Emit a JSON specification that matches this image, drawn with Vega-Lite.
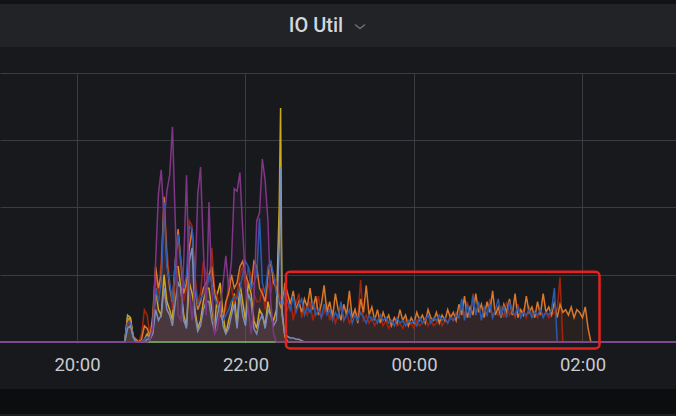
{
  "$schema": "https://vega.github.io/schema/vega-lite/v6.json",
  "background": "#18191d",
  "padding": 0,
  "spacing": 0,
  "bounds": "flush",
  "vconcat": [
    {"width": 676, "height": 4, "view": {"fill": "#111216"}, "data": {"values": []}, "mark": "rule", "encoding": {}},
    {
      "width": 676, "height": 43, "view": {"fill": "#212327"},
      "data": {"values": [{"t": "IO Util"}]},
      "layer": [
        {"mark": {"type": "text", "font": "Roboto", "fontSize": 20, "fontWeight": 500, "color": "#d4d6dc", "dx": -22, "baseline": "middle"}, "encoding": {"text": {"field": "t"}}},
        {"mark": {"type": "point", "shape": "M-1,-0.4L0,0.4L1,-0.4", "filled": false, "color": "#8e9096", "strokeWidth": 1.5, "size": 100, "xOffset": 22, "yOffset": 1}, "encoding": {}}
      ]
    },
    {"width": 676, "height": 26, "data": {"values": []}, "mark": "rule", "encoding": {}},
    {
      "width": 676, "height": 270,
      "layer": [
        {
          "data": {"values": [
            {"t":"2023-01-01T19:05:10","g":0,"y":0,"r":0,"o":0,"b":0,"s":0,"p":0},
            {"t":"2023-01-01T20:30","g":0,"y":0,"r":0,"o":0,"b":0,"s":0,"p":0},
            {"t":"2023-01-01T20:34","g":0,"y":0,"r":0,"o":0,"b":0,"s":0,"p":0},
            {"t":"2023-01-01T20:36","g":10,"y":8,"r":7,"o":9,"b":7,"s":5,"p":0},
            {"t":"2023-01-01T20:38","g":9,"y":9,"r":6,"o":8,"b":7,"s":6,"p":0},
            {"t":"2023-01-01T20:40","g":2,"y":2,"r":2,"o":2,"b":2,"s":2,"p":0},
            {"t":"2023-01-01T20:42","g":0,"y":0,"r":1,"o":1,"b":0,"s":0,"p":0},
            {"t":"2023-01-01T20:44","g":0,"y":0,"r":0,"o":0,"b":0,"s":0,"p":0},
            {"t":"2023-01-01T20:46","g":0,"y":0,"r":3,"o":1,"b":0,"s":0,"p":0},
            {"t":"2023-01-01T20:48","g":0,"y":1,"r":12,"o":6,"b":1,"s":0,"p":0},
            {"t":"2023-01-01T20:50","g":0,"y":3,"r":10,"o":5,"b":2,"s":1,"p":0},
            {"t":"2023-01-01T20:52","g":0,"y":1,"r":2,"o":2,"b":1,"s":1,"p":1},
            {"t":"2023-01-01T20:54","g":0,"y":4,"r":8,"o":10,"b":6,"s":3,"p":5},
            {"t":"2023-01-01T20:56","g":0,"y":20,"r":25,"o":28,"b":20,"s":12,"p":30},
            {"t":"2023-01-01T20:58","g":0,"y":12,"r":18,"o":20,"b":15,"s":8,"p":55},
            {"t":"2023-01-01T21:00","g":0,"y":10,"r":30,"o":25,"b":22,"s":10,"p":64},
            {"t":"2023-01-01T21:02","g":0,"y":25,"r":52,"o":54,"b":52,"s":20,"p":45},
            {"t":"2023-01-01T21:04","g":0,"y":15,"r":35,"o":30,"b":28,"s":12,"p":56},
            {"t":"2023-01-01T21:06","g":0,"y":12,"r":22,"o":20,"b":22,"s":10,"p":62},
            {"t":"2023-01-01T21:08","g":0,"y":8,"r":12,"o":15,"b":15,"s":6,"p":80},
            {"t":"2023-01-01T21:10","g":0,"y":28,"r":25,"o":30,"b":30,"s":15,"p":45},
            {"t":"2023-01-01T21:12","g":0,"y":28,"r":40,"o":42,"b":40,"s":22,"p":10},
            {"t":"2023-01-01T21:14","g":0,"y":20,"r":28,"o":30,"b":30,"s":20,"p":8},
            {"t":"2023-01-01T21:16","g":0,"y":10,"r":15,"o":18,"b":20,"s":8,"p":30},
            {"t":"2023-01-01T21:18","g":0,"y":6,"r":20,"o":22,"b":25,"s":5,"p":62},
            {"t":"2023-01-01T21:20","g":0,"y":22,"r":45,"o":35,"b":43,"s":30,"p":20},
            {"t":"2023-01-01T21:22","g":0,"y":18,"r":43,"o":42,"b":42,"s":35,"p":8},
            {"t":"2023-01-01T21:24","g":0,"y":12,"r":25,"o":20,"b":22,"s":10,"p":20},
            {"t":"2023-01-01T21:26","g":0,"y":5,"r":15,"o":12,"b":14,"s":4,"p":55},
            {"t":"2023-01-01T21:28","g":0,"y":8,"r":18,"o":15,"b":16,"s":6,"p":65},
            {"t":"2023-01-01T21:30","g":0,"y":15,"r":30,"o":20,"b":18,"s":12,"p":35},
            {"t":"2023-01-01T21:32","g":0,"y":20,"r":25,"o":22,"b":18,"s":15,"p":10},
            {"t":"2023-01-01T21:34","g":0,"y":20,"r":22,"o":25,"b":25,"s":15,"p":52},
            {"t":"2023-01-01T21:36","g":0,"y":12,"r":35,"o":28,"b":22,"s":8,"p":20},
            {"t":"2023-01-01T21:38","g":0,"y":6,"r":20,"o":18,"b":16,"s":4,"p":3},
            {"t":"2023-01-01T21:40","g":0,"y":18,"r":17,"o":14,"b":14,"s":10,"p":5},
            {"t":"2023-01-01T21:42","g":0,"y":22,"r":12,"o":10,"b":12,"s":15,"p":12},
            {"t":"2023-01-01T21:44","g":0,"y":10,"r":10,"o":8,"b":8,"s":6,"p":22},
            {"t":"2023-01-01T21:46","g":0,"y":3,"r":12,"o":15,"b":10,"s":3,"p":32},
            {"t":"2023-01-01T21:48","g":0,"y":8,"r":22,"o":18,"b":12,"s":5,"p":20},
            {"t":"2023-01-01T21:50","g":0,"y":12,"r":20,"o":25,"b":15,"s":10,"p":30},
            {"t":"2023-01-01T21:52","g":0,"y":18,"r":15,"o":20,"b":17,"s":14,"p":57},
            {"t":"2023-01-01T21:54","g":0,"y":6,"r":18,"o":22,"b":16,"s":5,"p":56},
            {"t":"2023-01-01T21:56","g":0,"y":22,"r":25,"o":28,"b":20,"s":18,"p":63},
            {"t":"2023-01-01T21:58","g":0,"y":15,"r":28,"o":30,"b":25,"s":10,"p":42},
            {"t":"2023-01-01T22:00","g":0,"y":8,"r":20,"o":25,"b":30,"s":6,"p":22},
            {"t":"2023-01-01T22:02","g":0,"y":22,"r":28,"o":22,"b":28,"s":18,"p":12},
            {"t":"2023-01-01T22:04","g":0,"y":18,"r":25,"o":20,"b":20,"s":15,"p":3},
            {"t":"2023-01-01T22:06","g":0,"y":8,"r":18,"o":30,"b":22,"s":5,"p":15},
            {"t":"2023-01-01T22:08","g":0,"y":5,"r":15,"o":28,"b":25,"s":3,"p":45},
            {"t":"2023-01-01T22:10","g":0,"y":12,"r":15,"o":20,"b":46,"s":8,"p":48},
            {"t":"2023-01-01T22:12","g":0,"y":10,"r":20,"o":18,"b":22,"s":10,"p":68},
            {"t":"2023-01-01T22:14","g":0,"y":6,"r":12,"o":15,"b":18,"s":5,"p":60},
            {"t":"2023-01-01T22:16","g":0,"y":15,"r":22,"o":25,"b":28,"s":12,"p":45},
            {"t":"2023-01-01T22:18","g":0,"y":10,"r":18,"o":30,"b":30,"s":10,"p":15},
            {"t":"2023-01-01T22:20","g":0,"y":8,"r":25,"o":22,"b":25,"s":6,"p":3},
            {"t":"2023-01-01T22:22","g":0,"y":12,"r":22,"o":20,"b":18,"s":8,"p":0},
            {"t":"2023-01-01T22:24","g":0,"y":50,"r":18,"o":15,"b":15,"s":35,"p":0},
            {"t":"2023-01-01T22:25","g":0,"y":87,"r":16,"o":13,"b":15,"s":65,"p":0},
            {"t":"2023-01-01T22:26","g":0,"y":12,"r":15,"o":12,"b":14,"s":10,"p":0},
            {"t":"2023-01-01T22:28","g":0,"y":2,"r":14,"o":22,"b":18,"s":3,"p":0},
            {"t":"2023-01-01T22:30","g":0,"y":0,"r":12,"o":18,"b":15,"s":2,"p":0},
            {"t":"2023-01-01T22:32","g":0,"y":0,"r":16,"o":14,"b":12,"s":1.5,"p":0},
            {"t":"2023-01-01T22:34","g":0,"y":0,"r":8,"o":19,"b":17,"s":1.5,"p":0},
            {"t":"2023-01-01T22:36","g":0,"y":0,"r":14,"o":12,"b":11,"s":1,"p":0},
            {"t":"2023-01-01T22:38","g":0,"y":0,"r":18,"o":15,"b":14,"s":1,"p":0},
            {"t":"2023-01-01T22:40","g":0,"y":0,"r":9,"o":11,"b":16,"s":0.5,"p":0},
            {"t":"2023-01-01T22:42","g":0,"y":0,"r":13,"o":16,"b":10,"s":0,"p":0},
            {"t":"2023-01-01T22:44","g":0,"y":0,"r":10,"o":13,"b":13,"s":0,"p":0},
            {"t":"2023-01-01T22:46","g":0,"y":0,"r":15,"o":20,"b":11,"s":0,"p":0},
            {"t":"2023-01-01T22:48","g":0,"y":0,"r":8,"o":12,"b":15,"s":0,"p":0},
            {"t":"2023-01-01T22:50","g":0,"y":0,"r":12,"o":17,"b":10,"s":0,"p":0},
            {"t":"2023-01-01T22:52","g":0,"y":0,"r":17,"o":10,"b":12,"s":0,"p":0},
            {"t":"2023-01-01T22:54","g":0,"y":0,"r":9,"o":14,"b":9,"s":0,"p":0},
            {"t":"2023-01-01T22:56","g":0,"y":0,"r":11,"o":21,"b":14,"s":0,"p":0},
            {"t":"2023-01-01T22:58","g":0,"y":0,"r":14,"o":11,"b":10,"s":0,"p":0},
            {"t":"2023-01-01T23:00","g":0,"y":0,"r":8,"o":15,"b":12,"s":0,"p":0},
            {"t":"2023-01-01T23:02","g":0,"y":0,"r":12,"o":9,"b":8,"s":0,"p":0},
            {"t":"2023-01-01T23:04","g":0,"y":0,"r":7,"o":18,"b":11,"s":0,"p":0},
            {"t":"2023-01-01T23:06","g":0,"y":0,"r":10,"o":12,"b":9,"s":0,"p":0},
            {"t":"2023-01-01T23:08","g":0,"y":0,"r":13,"o":8,"b":15,"s":0,"p":0},
            {"t":"2023-01-01T23:10","g":0,"y":0,"r":8,"o":14,"b":8,"s":0,"p":0},
            {"t":"2023-01-01T23:12","g":0,"y":0,"r":11,"o":10,"b":10,"s":0,"p":0},
            {"t":"2023-01-01T23:14","g":0,"y":0,"r":7,"o":19,"b":12,"s":0,"p":0},
            {"t":"2023-01-01T23:16","g":0,"y":0,"r":9,"o":9,"b":7,"s":0,"p":0},
            {"t":"2023-01-01T23:18","g":0,"y":0,"r":12,"o":12,"b":10,"s":0,"p":0},
            {"t":"2023-01-01T23:20","g":0,"y":0,"r":9,"o":7,"b":8,"s":0,"p":0},
            {"t":"2023-01-01T23:22","g":0,"y":0,"r":23,"o":16,"b":11,"s":0,"p":0},
            {"t":"2023-01-01T23:24","g":0,"y":0,"r":8,"o":11,"b":9,"s":0,"p":0},
            {"t":"2023-01-01T23:26","g":0,"y":0,"r":10,"o":21,"b":7,"s":0,"p":0},
            {"t":"2023-01-01T23:28","g":0,"y":0,"r":7,"o":10,"b":10,"s":0,"p":0},
            {"t":"2023-01-01T23:30","g":0,"y":0,"r":9,"o":13,"b":8,"s":0,"p":0},
            {"t":"2023-01-01T23:32","g":0,"y":0,"r":6,"o":8,"b":9,"s":0,"p":0},
            {"t":"2023-01-01T23:34","g":0,"y":0,"r":8,"o":12,"b":7,"s":0,"p":0},
            {"t":"2023-01-01T23:36","g":0,"y":0,"r":10,"o":7,"b":10,"s":0,"p":0},
            {"t":"2023-01-01T23:38","g":0,"y":0,"r":6,"o":11,"b":8,"s":0,"p":0},
            {"t":"2023-01-01T23:40","g":0,"y":0,"r":8,"o":8,"b":9,"s":0,"p":0},
            {"t":"2023-01-01T23:42","g":0,"y":0,"r":5,"o":10,"b":7,"s":0,"p":0},
            {"t":"2023-01-01T23:44","g":0,"y":0,"r":7,"o":6,"b":8,"s":0,"p":0},
            {"t":"2023-01-01T23:46","g":0,"y":0,"r":9,"o":9,"b":6,"s":0,"p":0},
            {"t":"2023-01-01T23:48","g":0,"y":0,"r":6,"o":7,"b":9,"s":0,"p":0},
            {"t":"2023-01-01T23:50","g":0,"y":0,"r":7,"o":12,"b":7,"s":0,"p":0},
            {"t":"2023-01-01T23:52","g":0,"y":0,"r":5,"o":8,"b":8,"s":0,"p":0},
            {"t":"2023-01-01T23:54","g":0,"y":0,"r":8,"o":10,"b":6,"s":0,"p":0},
            {"t":"2023-01-01T23:56","g":0,"y":0,"r":6,"o":6,"b":8,"s":0,"p":0},
            {"t":"2023-01-01T23:58","g":0,"y":0,"r":7,"o":9,"b":7,"s":0,"p":0},
            {"t":"2023-01-02T00:00","g":0,"y":0,"r":5,"o":7,"b":8,"s":0,"p":0},
            {"t":"2023-01-02T00:02","g":0,"y":0,"r":8,"o":11,"b":6,"s":0,"p":0},
            {"t":"2023-01-02T00:04","g":0,"y":0,"r":6,"o":8,"b":9,"s":0,"p":0},
            {"t":"2023-01-02T00:06","g":0,"y":0,"r":7,"o":10,"b":7,"s":0,"p":0},
            {"t":"2023-01-02T00:08","g":0,"y":0,"r":9,"o":7,"b":8,"s":0,"p":0},
            {"t":"2023-01-02T00:10","g":0,"y":0,"r":6,"o":12,"b":10,"s":0,"p":0},
            {"t":"2023-01-02T00:12","g":0,"y":0,"r":8,"o":9,"b":7,"s":0,"p":0},
            {"t":"2023-01-02T00:14","g":0,"y":0,"r":6,"o":8,"b":9,"s":0,"p":0},
            {"t":"2023-01-02T00:16","g":0,"y":0,"r":7,"o":11,"b":8,"s":0,"p":0},
            {"t":"2023-01-02T00:18","g":0,"y":0,"r":9,"o":7,"b":10,"s":0,"p":0},
            {"t":"2023-01-02T00:20","g":0,"y":0,"r":6,"o":10,"b":8,"s":0,"p":0},
            {"t":"2023-01-02T00:22","g":0,"y":0,"r":8,"o":8,"b":9,"s":0,"p":0},
            {"t":"2023-01-02T00:24","g":0,"y":0,"r":7,"o":12,"b":7,"s":0,"p":0},
            {"t":"2023-01-02T00:26","g":0,"y":0,"r":10,"o":9,"b":9,"s":0,"p":0},
            {"t":"2023-01-02T00:28","g":0,"y":0,"r":8,"o":11,"b":8,"s":0,"p":0},
            {"t":"2023-01-02T00:30","g":0,"y":0,"r":11,"o":8,"b":10,"s":0,"p":0},
            {"t":"2023-01-02T00:32","g":0,"y":0,"r":9,"o":14,"b":9,"s":0,"p":0},
            {"t":"2023-01-02T00:34","g":0,"y":0,"r":13,"o":10,"b":16,"s":0,"p":0},
            {"t":"2023-01-02T00:36","g":0,"y":0,"r":10,"o":17,"b":8,"s":0,"p":0},
            {"t":"2023-01-02T00:38","g":0,"y":0,"r":15,"o":9,"b":14,"s":0,"p":0},
            {"t":"2023-01-02T00:40","g":0,"y":0,"r":9,"o":13,"b":9,"s":0,"p":0},
            {"t":"2023-01-02T00:42","g":0,"y":0,"r":18,"o":10,"b":17,"s":0,"p":0},
            {"t":"2023-01-02T00:44","g":0,"y":0,"r":10,"o":18,"b":10,"s":0,"p":0},
            {"t":"2023-01-02T00:46","g":0,"y":0,"r":14,"o":11,"b":15,"s":0,"p":0},
            {"t":"2023-01-02T00:48","g":0,"y":0,"r":9,"o":14,"b":8,"s":0,"p":0},
            {"t":"2023-01-02T00:50","g":0,"y":0,"r":12,"o":9,"b":13,"s":0,"p":0},
            {"t":"2023-01-02T00:52","g":0,"y":0,"r":10,"o":15,"b":10,"s":0,"p":0},
            {"t":"2023-01-02T00:54","g":0,"y":0,"r":16,"o":11,"b":14,"s":0,"p":0},
            {"t":"2023-01-02T00:56","g":0,"y":0,"r":9,"o":19,"b":9,"s":0,"p":0},
            {"t":"2023-01-02T00:58","g":0,"y":0,"r":12,"o":10,"b":12,"s":0,"p":0},
            {"t":"2023-01-02T01:00","g":0,"y":0,"r":10,"o":13,"b":16,"s":0,"p":0},
            {"t":"2023-01-02T01:02","g":0,"y":0,"r":13,"o":9,"b":10,"s":0,"p":0},
            {"t":"2023-01-02T01:04","g":0,"y":0,"r":9,"o":14,"b":13,"s":0,"p":0},
            {"t":"2023-01-02T01:06","g":0,"y":0,"r":15,"o":11,"b":9,"s":0,"p":0},
            {"t":"2023-01-02T01:08","g":0,"y":0,"r":10,"o":16,"b":15,"s":0,"p":0},
            {"t":"2023-01-02T01:10","g":0,"y":0,"r":12,"o":10,"b":11,"s":0,"p":0},
            {"t":"2023-01-02T01:12","g":0,"y":0,"r":9,"o":18,"b":10,"s":0,"p":0},
            {"t":"2023-01-02T01:14","g":0,"y":0,"r":14,"o":9,"b":13,"s":0,"p":0},
            {"t":"2023-01-02T01:16","g":0,"y":0,"r":10,"o":12,"b":9,"s":0,"p":0},
            {"t":"2023-01-02T01:18","g":0,"y":0,"r":12,"o":10,"b":11,"s":0,"p":0},
            {"t":"2023-01-02T01:20","g":0,"y":0,"r":9,"o":17,"b":10,"s":0,"p":0},
            {"t":"2023-01-02T01:22","g":0,"y":0,"r":13,"o":11,"b":12,"s":0,"p":0},
            {"t":"2023-01-02T01:24","g":0,"y":0,"r":10,"o":13,"b":9,"s":0,"p":0},
            {"t":"2023-01-02T01:26","g":0,"y":0,"r":11,"o":9,"b":11,"s":0,"p":0},
            {"t":"2023-01-02T01:28","g":0,"y":0,"r":9,"o":15,"b":10,"s":0,"p":0},
            {"t":"2023-01-02T01:30","g":0,"y":0,"r":12,"o":10,"b":12,"s":0,"p":0},
            {"t":"2023-01-02T01:32","g":0,"y":0,"r":10,"o":18,"b":9,"s":0,"p":0},
            {"t":"2023-01-02T01:34","g":0,"y":0,"r":11,"o":11,"b":11,"s":0,"p":0},
            {"t":"2023-01-02T01:36","g":0,"y":0,"r":9,"o":13,"b":10,"s":0,"p":0},
            {"t":"2023-01-02T01:38","g":0,"y":0,"r":10,"o":10,"b":12,"s":0,"p":0},
            {"t":"2023-01-02T01:40","g":0,"y":0,"r":11,"o":15,"b":20,"s":0,"p":0},
            {"t":"2023-01-02T01:42","g":0,"y":0,"r":12,"o":9,"b":0,"s":0,"p":0},
            {"t":"2023-01-02T01:44","g":0,"y":0,"r":24,"o":14,"b":0,"s":0,"p":0},
            {"t":"2023-01-02T01:46","g":0,"y":0,"r":0,"o":11,"b":0,"s":0,"p":0},
            {"t":"2023-01-02T01:48","g":0,"y":0,"r":0,"o":12,"b":0,"s":0,"p":0},
            {"t":"2023-01-02T01:50","g":0,"y":0,"r":0,"o":10,"b":0,"s":0,"p":0},
            {"t":"2023-01-02T01:52","g":0,"y":0,"r":0,"o":13,"b":0,"s":0,"p":0},
            {"t":"2023-01-02T01:54","g":0,"y":0,"r":0,"o":9,"b":0,"s":0,"p":0},
            {"t":"2023-01-02T01:56","g":0,"y":0,"r":0,"o":12,"b":0,"s":0,"p":0},
            {"t":"2023-01-02T01:58","g":0,"y":0,"r":0,"o":11,"b":0,"s":0,"p":0},
            {"t":"2023-01-02T02:00","g":0,"y":0,"r":0,"o":9,"b":0,"s":0,"p":0},
            {"t":"2023-01-02T02:02","g":0,"y":0,"r":0,"o":13,"b":0,"s":0,"p":0},
            {"t":"2023-01-02T02:04","g":0,"y":0,"r":0,"o":5,"b":0,"s":0,"p":0},
            {"t":"2023-01-02T02:06","g":0,"y":0,"r":0,"o":0,"b":0,"s":0,"p":0},
            {"t":"2023-01-02T03:06:36","g":0,"y":0,"r":0,"o":0,"b":0,"s":0,"p":0}
          ]},
          "transform": [{"fold": ["g", "y", "r", "o", "b", "s", "p"], "as": ["series", "v"]}],
          "encoding": {
            "x": {
              "field": "t", "type": "temporal", "title": null,
              "scale": {"domain": ["2023-01-01T19:05:10", "2023-01-02T03:06:36"], "nice": false},
              "axis": {
                "values": [
                  {"year": 2023, "month": 1, "date": 1, "hours": 20},
                  {"year": 2023, "month": 1, "date": 1, "hours": 22},
                  {"year": 2023, "month": 1, "date": 2, "hours": 0},
                  {"year": 2023, "month": 1, "date": 2, "hours": 2}
                ],
                "format": "%H:%M",
                "labelFont": "Roboto", "labelFontSize": 18.5, "labelColor": "#c8cbd2",
                "labelPadding": 21, "labelBaseline": "middle", "labelFlush": false, "labelOverlap": false,
                "domain": false, "ticks": false, "tickSize": 0,
                "grid": true, "gridColor": "#3a3c41", "gridWidth": 1
              }
            },
            "y": {
              "field": "v", "type": "quantitative", "stack": null, "title": null,
              "scale": {"domain": [-0.4, 100], "nice": false, "zero": false},
              "axis": {"values": [0, 25, 50, 75, 100], "labels": false, "ticks": false, "tickSize": 0, "domain": false, "grid": true, "gridColor": "#3a3c41", "gridWidth": 1}
            },
            "color": {
              "field": "series", "type": "nominal", "legend": null,
              "scale": {"domain": ["g", "y", "r", "o", "b", "s", "p"], "range": ["#7eb26d", "#cfa81d", "#a3240c", "#d9772b", "#2a5cad", "#7a8cba", "#7f3785"]}
            }
          },
          "layer": [
            {"mark": {"type": "area", "fillOpacity": 0.09, "clip": true}},
            {"mark": {"type": "line", "strokeWidth": 1.5, "clip": true}}
          ]
        },
        {
          "data": {"values": [{"x1": "2023-01-01T22:28:50", "x2": "2023-01-02T02:12:07", "y1": -2.4, "y2": 26.1}]},
          "mark": {"type": "rect", "filled": false, "fill": null, "stroke": "#e3221d", "strokeWidth": 2.5, "cornerRadius": 4},
          "encoding": {
            "x": {"field": "x1", "type": "temporal", "title": null, "scale": {"domain": ["2023-01-01T19:05:10", "2023-01-02T03:06:36"], "nice": false}},
            "x2": {"field": "x2"},
            "y": {"field": "y1", "type": "quantitative", "title": null, "scale": {"domain": [-0.4, 100], "nice": false, "zero": false}},
            "y2": {"field": "y2"}
          }
        }
      ]
    },
    {"width": 676, "height": 46, "data": {"values": []}, "mark": "rule", "encoding": {}},
    {"width": 676, "height": 25, "view": {"fill": "#0c0d0f"}, "data": {"values": []}, "mark": "rule", "encoding": {}},
    {"width": 676, "height": 2, "view": {"fill": "#1b1c20"}, "data": {"values": []}, "mark": "rule", "encoding": {}}
  ],
  "config": {
    "view": {"stroke": null},
    "font": "Roboto"
  }
}
